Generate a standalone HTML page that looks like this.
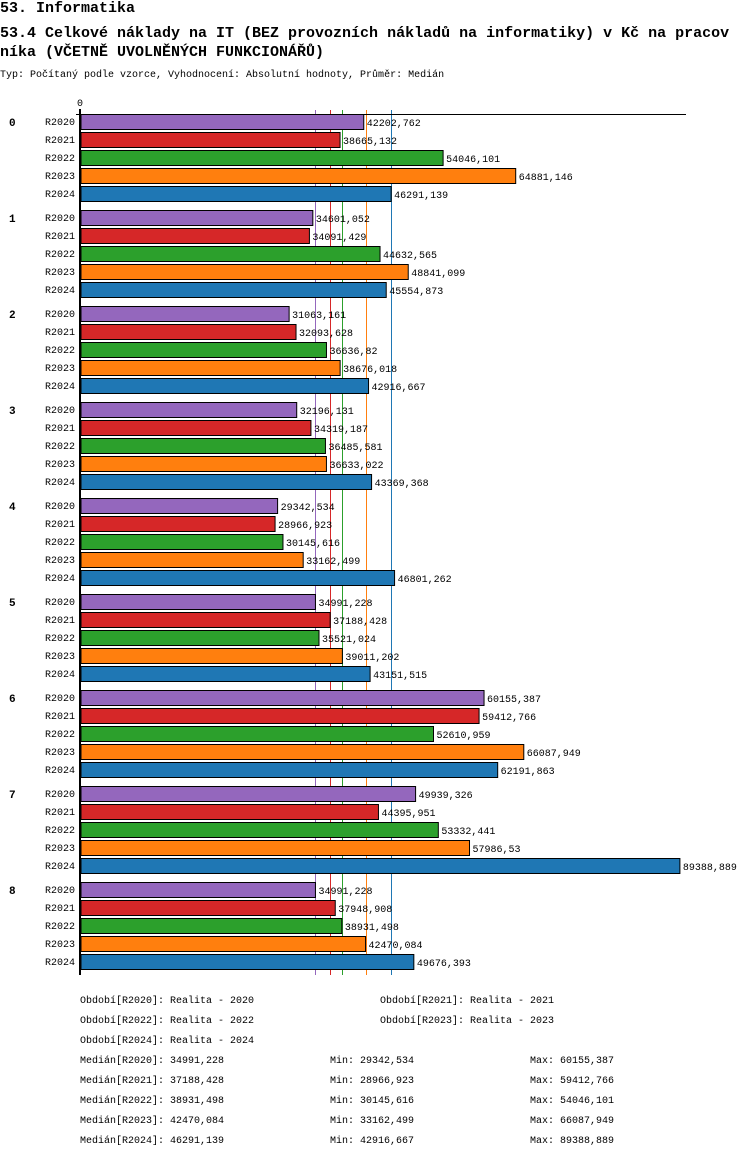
<!DOCTYPE html>
<html><head><meta charset="utf-8"><style>
body{margin:0;background:#fff;width:750px;height:1158px;overflow:hidden}
svg{display:block;font-family:"Liberation Mono","DejaVu Sans Mono",monospace}
</style></head><body>
<svg id="c" width="750" height="1158">
<text x="0" y="12" font-size="15" font-weight="bold">53. Informatika</text>
<text x="0" y="37" font-size="15" font-weight="bold">53.4 Celkové náklady na IT (BEZ provozních nákladů na informatiky) v Kč na pracov</text>
<text x="0" y="56" font-size="15" font-weight="bold">níka (VČETNĚ UVOLNĚNÝCH FUNKCIONÁŘŮ)</text>
<text x="0" y="77" font-size="10">Typ: Počítaný podle vzorce, Vyhodnocení: Absolutní hodnoty, Průměr: Medián</text>
<g id="lines"></g><g id="bars"></g>
<line x1="80" y1="109" x2="80" y2="975" stroke="#000" stroke-width="2"/>
<line x1="76" y1="114.5" x2="686" y2="114.5" stroke="#000" stroke-width="1"/>
<text x="80" y="106" font-size="10" text-anchor="middle">0</text>
<g id="leg" font-size="10"></g>
</svg>
<script>
const categories=["0","1","2","3","4","5","6","7","8"];
const series=["R2020","R2021","R2022","R2023","R2024"];
const colors=["#9467bd","#d62728","#2ca02c","#ff7f0e","#1f77b4"];
const r2020=[42202762,34601052,31063161,32196131,29342534,34991228,60155387,49939326,34991228];
const r2021=[38665132,34091429,32093628,34319187,28966923,37188428,59412766,44395951,37948908];
const r2022=[54046101,44632565,36636820,36485581,30145616,35521024,52610959,53332441,38931498];
const r2023=[64881146,48841099,38676018,36633022,33162499,39011202,66087949,57986530,42470084];
const r2024=[46291139,45554873,42916667,43369368,46801262,43151515,62191863,89388889,49676393];
const labels2020=["42202,762","34601,052","31063,161","32196,131","29342,534","34991,228","60155,387","49939,326","34991,228"];
const labels2021=["38665,132","34091,429","32093,628","34319,187","28966,923","37188,428","59412,766","44395,951","37948,908"];
const labels2022=["54046,101","44632,565","36636,82","36485,581","30145,616","35521,024","52610,959","53332,441","38931,498"];
const labels2023=["64881,146","48841,099","38676,018","36633,022","33162,499","39011,202","66087,949","57986,53","42470,084"];
const labels2024=["46291,139","45554,873","42916,667","43369,368","46801,262","43151,515","62191,863","89388,889","49676,393"];
const medians=[34991228,37188428,38931498,42470084,46291139];
const medianLabels=["34991,228","37188,428","38931,498","42470,084","46291,139"];
const minLabels=["29342,534","28966,923","30145,616","33162,499","42916,667"];
const maxLabels=["60155,387","59412,766","54046,101","66087,949","89388,889"];
const vals=[r2020,r2021,r2022,r2023,r2024];
const labs=[labels2020,labels2021,labels2022,labels2023,labels2024];
const NS="http://www.w3.org/2000/svg";
const x=v=>81+v*6.7e-6;
const y=(g,s)=>114+g*96+s*18;
function mk(t,a,p){const e=document.createElementNS(NS,t);for(const k in a)e.setAttribute(k,a[k]);p.appendChild(e);return e;}
const L=document.getElementById('lines'),B=document.getElementById('bars'),G=document.getElementById('leg');
medians.forEach((m,i)=>{const xx=Math.round(x(m))+0.5;const e=mk('line',{x1:xx,x2:xx,y1:110,y2:975,stroke:colors[i],'stroke-width':1},L);

});
categories.forEach((c,g)=>{
 const t=mk('text',{x:9,y:y(g,0)+12,'font-size':11,'font-weight':'bold'},B);t.textContent=c;
 
 
 series.forEach((s,i)=>{
  const yy=y(g,i);
  const tl=mk('text',{x:75,y:yy+11,'font-size':10,'text-anchor':'end'},B);tl.textContent=s;
  
  
  const r=mk('rect',{x:81,y:yy+0.5,width:x(vals[i][g])-81,height:15,fill:colors[i],stroke:'#000','stroke-width':1},B);
  
  
  const v=mk('text',{x:x(vals[i][g])+3,y:yy+12,'font-size':10},B);v.textContent=labs[i][g];
  
  
 });
});
const leg=[[80,1003,"Období[R2020]: Realita - 2020"],[380,1003,"Období[R2021]: Realita - 2021"],[80,1023,"Období[R2022]: Realita - 2022"],[380,1023,"Období[R2023]: Realita - 2023"],[80,1043,"Období[R2024]: Realita - 2024"]];
leg.forEach(l=>{const t=mk('text',{x:l[0],y:l[1]},G);t.textContent=l[2];
 
 });
series.forEach((s,i)=>{const yy=1063+i*20;
 const a=mk('text',{x:80,y:yy},G);a.textContent="Medián["+s+"]: "+medianLabels[i];
 
 
 const b=mk('text',{x:330,y:yy},G);b.textContent="Min: "+minLabels[i];
 
 
 const d=mk('text',{x:530,y:yy},G);d.textContent="Max: "+maxLabels[i];
 
 
});
</script>
</body></html>
